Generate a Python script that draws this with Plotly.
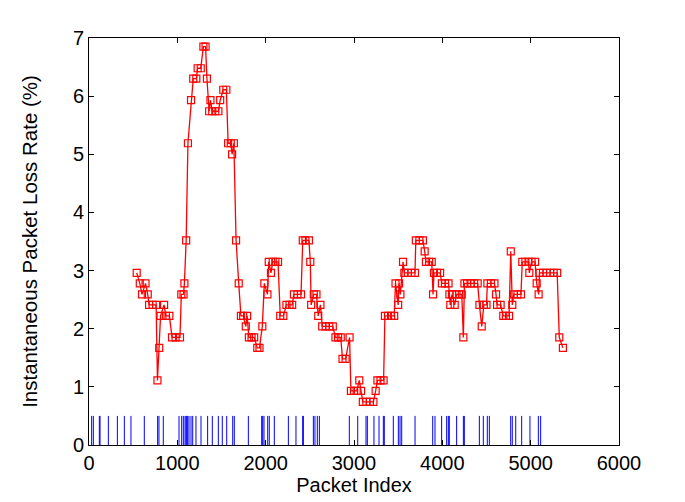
"""Instantaneous packet loss rate with loss-event rug."""

import plotly.graph_objects as go

# sliding-window loss rate (packet index, %)
rate_x = [
    540, 575, 600, 640, 665, 680, 720, 760, 775, 795, 810, 850, 870, 910, 940, 980,
    1030, 1045, 1070, 1080, 1100, 1120, 1155, 1180, 1215, 1230, 1265, 1295, 1320, 1335,
    1360, 1375, 1395, 1430, 1465, 1485, 1520, 1555, 1575, 1605, 1620, 1640, 1665, 1695,
    1720, 1745, 1775, 1790, 1810, 1840, 1870, 1905, 1930, 1962, 1985, 2020, 2035, 2060,
    2080, 2110, 2140, 2165, 2200, 2235, 2270, 2300, 2320, 2360, 2400, 2420, 2450, 2490,
    2505, 2515, 2545, 2575, 2595, 2620, 2640, 2680, 2720, 2760, 2790, 2820, 2850, 2870,
    2905, 2950, 2965, 3000, 3030, 3060, 3080, 3100, 3140, 3180, 3220, 3245, 3265, 3300,
    3335, 3350, 3385, 3420, 3455, 3470, 3500, 3510, 3525, 3555, 3570, 3610, 3650, 3690,
    3700, 3740, 3780, 3800, 3815, 3850, 3880, 3895, 3905, 3940, 3975, 3995, 4030, 4070,
    4080, 4090, 4110, 4140, 4160, 4190, 4220, 4238, 4250, 4280, 4320, 4360, 4400, 4420,
    4446, 4470, 4500, 4510, 4550, 4590, 4608, 4620, 4660, 4690, 4720, 4755, 4775, 4792,
    4810, 4850, 4890, 4905, 4940, 4975, 4985, 5010, 5050, 5068, 5090, 5100, 5140, 5180,
    5220, 5260, 5300, 5324, 5365,
]
rate_y = [
    2.96, 2.78, 2.59, 2.78, 2.59, 2.41, 2.41, 2.41, 1.11, 1.67, 2.22, 2.41, 2.22, 2.22, 1.85, 1.85,
    1.85, 2.59, 2.59, 2.78, 3.52, 5.19, 5.93, 6.30, 6.30, 6.48, 6.48, 6.85, 6.85, 6.30,
    5.74, 5.93, 5.74, 5.74, 5.74, 5.93, 6.11, 6.11, 5.19, 5.19, 5.00, 5.19, 3.52, 2.78,
    2.22, 2.22, 2.04, 2.22, 1.85, 1.85, 1.85, 1.67, 1.67, 2.04, 2.78, 2.59, 3.15, 2.96,
    3.15, 3.15, 3.15, 2.22, 2.22, 2.41, 2.41, 2.41, 2.59, 2.59, 2.59, 3.52, 3.52, 3.52,
    3.15, 2.41, 2.59, 2.59, 2.22, 2.41, 2.04, 2.04, 2.04, 2.04, 1.85, 1.85, 1.85, 1.48,
    1.48, 1.85, 0.93, 0.93, 0.93, 1.11, 0.93, 0.74, 0.74, 0.74, 0.74, 0.93, 1.11, 1.11,
    1.11, 2.22, 2.22, 2.22, 2.22, 2.78, 2.41, 2.78, 2.59, 3.15, 2.96, 2.96, 2.96, 2.96,
    3.52, 3.52, 3.52, 3.33, 3.15, 3.15, 3.15, 2.59, 2.96, 2.96, 2.96, 2.78, 2.78, 2.78,
    2.59, 2.41, 2.59, 2.41, 2.59, 2.59, 2.59, 1.85, 2.78, 2.78, 2.78, 2.78, 2.78, 2.41,
    2.04, 2.41, 2.41, 2.78, 2.78, 2.78, 2.59, 2.41, 2.41, 2.22, 2.22, 2.22, 3.33, 2.41,
    2.59, 2.59, 2.59, 3.15, 3.15, 3.15, 2.96, 3.15, 3.15, 2.78, 2.59, 2.96, 2.96, 2.96,
    2.96, 2.96, 2.96, 1.85, 1.67,
]

# packet indices of loss events
loss_events = [
    30, 49, 117, 125, 219, 321, 400, 475, 626, 777, 792, 841, 1019, 1049, 1068, 1087,
    1098, 1106, 1117, 1132, 1155, 1174, 1211, 1268, 1343, 1396, 1464, 1509, 1559, 1627,
    1645, 1804, 1955, 1966, 1981, 2023, 2041, 2098, 2257, 2343, 2419, 2427, 2540, 2558,
    2585, 2608, 2947, 3042, 3136, 3151, 3226, 3283, 3332, 3343, 3445, 3502, 3521, 3540,
    3691, 3891, 3917, 3992, 4049, 4068, 4079, 4162, 4238, 4249, 4419, 4464, 4509, 4532,
    4774, 4792, 4831, 4898, 4992, 5087, 5113,
]
RUG_HEIGHT = 0.5

rug_x, rug_y = [], []
for p in loss_events:
    rug_x += [p, p, None]
    rug_y += [0, RUG_HEIGHT, None]

fig = go.Figure()
fig.add_trace(
    go.Scatter(
        x=rug_x, y=rug_y, mode="lines",
        line=dict(color="#0000ff", width=1), hoverinfo="skip", showlegend=False,
    )
)
fig.add_trace(
    go.Scatter(
        x=rate_x, y=rate_y, mode="lines+markers",
        line=dict(color="#ff0000", width=1.3),
        marker=dict(symbol="square-open", size=7, color="#ff0000", line=dict(width=1.2)),
        showlegend=False,
    )
)

FONT = "Liberation Sans, Arial"
axis_style = dict(
    showline=True, linecolor="black", linewidth=1, mirror="ticks",
    ticks="inside", ticklen=5, tickcolor="black",
    showgrid=False, zeroline=False, automargin=False,
    tickfont=dict(family=FONT, size=20, color="black"),
)
fig.update_xaxes(
    range=[0, 6000], dtick=1000, title_text="Packet Index", title_standoff=0,
    title_font=dict(family=FONT, size=20, color="black"), **axis_style,
)
fig.update_yaxes(
    range=[0, 7], dtick=1, title_text="Instantaneous Packet Loss Rate (%)", title_standoff=29,
    title_font=dict(family=FONT, size=20.5, color="black"), **axis_style,
)
# the page body adds an 8px offset, so margins are shifted to keep the axes in place
fig.update_layout(
    width=685, height=502,
    plot_bgcolor="white", paper_bgcolor="white",
    margin=dict(l=81, r=74, t=30, b=65),
)
fig.write_html("out.html")
